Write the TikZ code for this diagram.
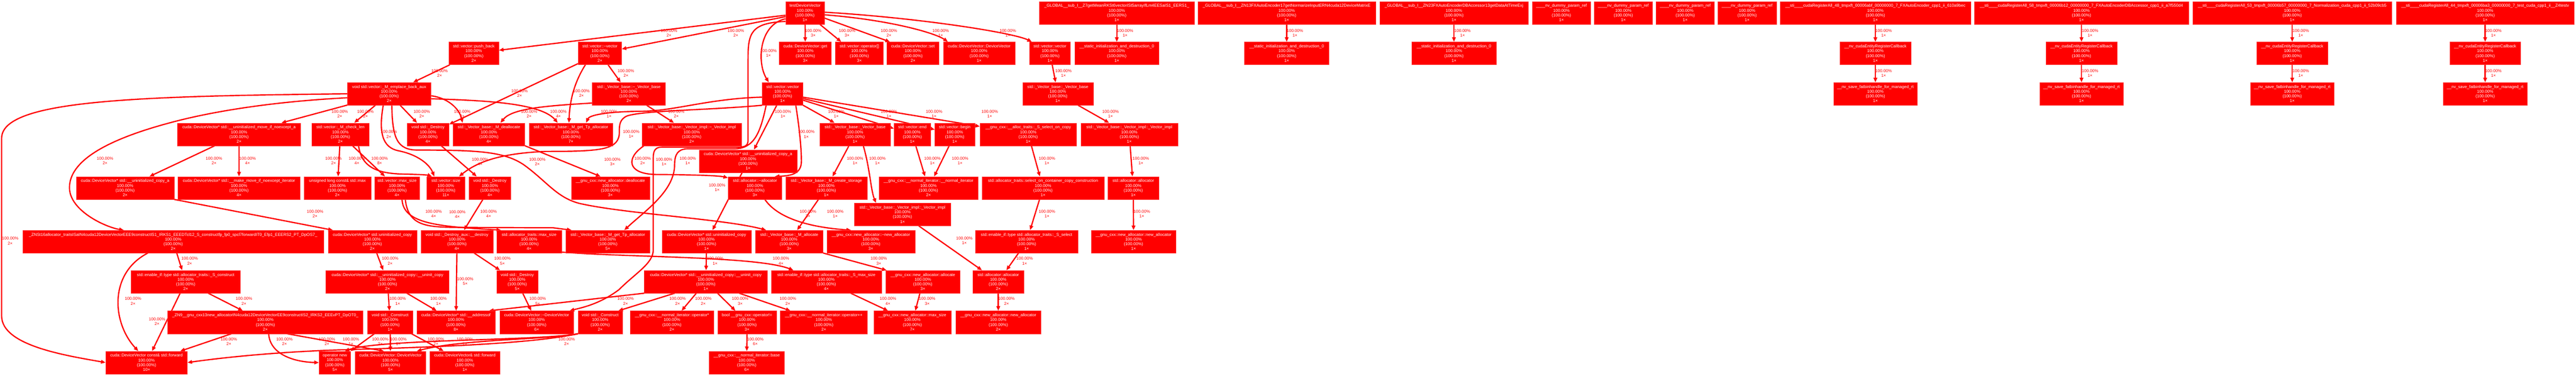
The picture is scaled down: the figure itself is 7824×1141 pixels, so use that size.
\documentclass[tikz,border=0pt]{standalone}
\usepackage{fontspec}
\setmainfont{Liberation Sans}
\usetikzlibrary{arrows.meta}
\pgfdeclarelayer{bg}
\pgfsetlayers{bg,main}
\newcommand\nf{\fontsize{12.6pt}{14.5pt}\selectfont}
\newcounter{lab}
\newcommand\FN[6]{\node[fn,minimum width=#4pt] (#1) at (#2,#3) {#5\\100.00\%\\(100.00\%)\\#6×};}
\newcommand\EL[3]{\stepcounter{lab}\node[elab] (lab\thelab) at (#1,#2) {100.00\%\\#3×};}
\tikzset{
  fn/.style={fill=red, draw=red!80!white, line width=0.6pt, text=white, align=center, inner sep=0pt, minimum height=69pt, font=\nf},
  elab/.style={text=red, align=center, inner sep=0pt, font=\nf},
  ed/.style={draw=red, line width=3.8pt, -{Triangle[length=14pt,width=11pt]}}
}
\begin{document}
\begin{tikzpicture}[x=1pt,y=-1pt]
\useasboundingbox (0,0) rectangle (7824,1141);
% ---------- R0
\FN{tdv}{2445}{39}{118}{testDeviceVector}{1}
\FN{g1}{3392}{39}{470}{\_GLOBAL\_\_sub\_I\_\_Z7getMeanRKSt6vectorISt5arrayIfLm4EESaIS1\_EERS1\_}{1}
\FN{g2}{3908}{39}{540}{\_GLOBAL\_\_sub\_I\_\_ZN13FXAutoEncoder17getNormarizeInputERN4cuda12DeviceMatrixE}{1}
\FN{g3}{4416}{39}{452}{\_GLOBAL\_\_sub\_I\_\_ZN23FXAutoEncoderDBAccessor13getDataAtTimeExj}{1}
\FN{d1}{4742.5}{39}{177}{\_\_\_\_nv\_dummy\_param\_ref}{1}
\FN{d2}{4930.5}{39}{177}{\_\_\_\_nv\_dummy\_param\_ref}{1}
\FN{d3}{5118.5}{39}{177}{\_\_\_\_nv\_dummy\_param\_ref}{1}
\FN{d4}{5306.5}{39}{177}{\_\_\_\_nv\_dummy\_param\_ref}{1}
\FN{s48}{5696}{39}{578}{\_\_sti\_\_\_\_cudaRegisterAll\_48\_tmpxft\_00006abf\_00000000\_7\_FXAutoEncoder\_cpp1\_ii\_610a9bec}{1}
\FN{s58}{6322}{39}{651}{\_\_sti\_\_\_\_cudaRegisterAll\_58\_tmpxft\_00006b12\_00000000\_7\_FXAutoEncoderDBAccessor\_cpp1\_ii\_a7f550d4}{1}
\FN{s53}{6962}{39}{605}{\_\_sti\_\_\_\_cudaRegisterAll\_53\_tmpxft\_00006b57\_00000000\_7\_Normalization\_cuda\_cpp1\_ii\_52b09cb5}{1}
\FN{s44}{7548}{39}{540}{\_\_sti\_\_\_\_cudaRegisterAll\_44\_tmpxft\_00006ba3\_00000000\_7\_test\_cuda\_cpp1\_ii\_\_Z4testv}{1}
% ---------- R1
\FN{pushb}{1439}{162}{152}{std::vector::push\_back}{2}
\FN{dtorvec}{1822}{162}{132}{std::vector::\textasciitilde vector}{2}
\FN{dvget}{2446}{162}{158}{cuda::DeviceVector::get}{3}
\FN{opidx}{2610}{162}{145}{std::vector::operator[]}{3}
\FN{dvset}{2773}{162}{158}{cuda::DeviceVector::set}{2}
\FN{dvctor1}{2974}{162}{217}{cuda::DeviceVector::DeviceVector}{1}
\FN{vecctor2}{3189}{162}{124}{std::vector::vector}{1}
\FN{sid1}{3392}{162}{256}{\_\_static\_initialization\_and\_destruction\_0}{1}
\FN{sid2}{3908}{162}{257}{\_\_static\_initialization\_and\_destruction\_0}{1}
\FN{sid3}{4416}{162}{257}{\_\_static\_initialization\_and\_destruction\_0}{1}
\FN{cb48}{5696}{162}{215}{\_\_nv\_cudaEntityRegisterCallback}{1}
\FN{cb58}{6322}{162}{215}{\_\_nv\_cudaEntityRegisterCallback}{1}
\FN{cb53}{6962}{162}{215}{\_\_nv\_cudaEntityRegisterCallback}{1}
\FN{cb44}{7548}{162}{215}{\_\_nv\_cudaEntityRegisterCallback}{1}
% ---------- R2
\FN{emplace}{1182}{285}{253}{void std::vector::\_M\_emplace\_back\_aux}{2}
\FN{vbdtor}{1910}{285}{222}{std::\_Vector\_base::\textasciitilde\_Vector\_base}{2}
\FN{vecctor1}{2377}{285}{124}{std::vector::vector}{1}
\FN{vbctor2}{3213}{285}{214}{std::\_Vector\_base::\_Vector\_base}{1}
\FN{fs48}{5696}{285}{254}{\_\_nv\_save\_fatbinhandle\_for\_managed\_rt}{1}
\FN{fs58}{6322}{285}{254}{\_\_nv\_save\_fatbinhandle\_for\_managed\_rt}{1}
\FN{fs53}{6962}{285}{254}{\_\_nv\_save\_fatbinhandle\_for\_managed\_rt}{1}
\FN{fs44}{7548}{285}{254}{\_\_nv\_save\_fatbinhandle\_for\_managed\_rt}{1}
% ---------- R3
\FN{umovea}{726}{408}{374}{cuda::DeviceVector* std::\_\_uninitialized\_move\_if\_noexcept\_a}{2}
\FN{checklen}{1034}{408}{174}{std::vector::\_M\_check\_len}{2}
\FN{destroy4a}{1300}{408}{127}{void std::\_Destroy}{4}
\FN{mdealloc}{1485}{408}{218}{std::\_Vector\_base::\_M\_deallocate}{4}
\FN{gettp7}{1734}{408}{253}{std::\_Vector\_base::\_M\_get\_Tp\_allocator}{7}
\FN{vimpldtor}{2101}{408}{302}{std::\_Vector\_base::\_Vector\_impl::\textasciitilde\_Vector\_impl}{2}
\FN{vbctor1}{2597}{408}{214}{std::\_Vector\_base::\_Vector\_base}{1}
\FN{vend}{2771}{408}{111}{std::vector::end}{1}
\FN{vbegin}{2900}{408}{121}{std::vector::begin}{1}
\FN{selcopy}{3123}{408}{293}{\_\_gnu\_cxx::\_\_alloc\_traits::\_S\_select\_on\_copy}{1}
\FN{vimplctor2}{3430}{408}{294}{std::\_Vector\_base::\_Vector\_impl::\_Vector\_impl}{1}
\FN{ucopya1}{2272}{489.5}{298}{cuda::DeviceVector* std::\_\_uninitialized\_copy\_a}{1}
% ---------- R4
\FN{ucopya2}{380}{571}{297}{cuda::DeviceVector* std::\_\_uninitialized\_copy\_a}{2}
\FN{mkmove}{726}{571}{371}{cuda::DeviceVector* std::\_\_make\_move\_if\_noexcept\_iterator}{4}
\FN{smax}{1025}{571}{203}{unsigned long const\& std::max}{2}
\FN{maxsize}{1206}{571}{135}{std::vector::max\_size}{4}
\FN{vsize}{1354}{571}{115}{std::vector::size}{11}
\FN{destroy4b}{1488}{571}{126}{void std::\_Destroy}{4}
\FN{nadealloc}{1854}{571}{238}{\_\_gnu\_cxx::new\_allocator::deallocate}{3}
\FN{allocdtor}{2293}{571}{163}{std::allocator::\textasciitilde allocator}{3}
\FN{createst}{2510}{571}{247}{std::\_Vector\_base::\_M\_create\_storage}{1}
\FN{normit}{2820}{571}{301}{\_\_gnu\_cxx::\_\_normal\_iterator::\_\_normal\_iterator}{2}
\FN{selcc}{3168}{571}{370}{std::allocator\_traits::select\_on\_container\_copy\_construction}{1}
\FN{allocctor1}{3442}{571}{154}{std::allocator::allocator}{1}
\FN{vimplctor1}{2741}{651.5}{293}{std::\_Vector\_base::\_Vector\_impl::\_Vector\_impl}{1}
% ---------- R5
\FN{atconstruct}{526}{734}{914}{\_ZNSt16allocator\_traitsISaIN4cuda12DeviceVectorEEE9constructIS1\_IRKS1\_EEEDTcl12\_S\_constructfp\_fp0\_spcl7forwardIT0\_Efp1\_EEERS2\_PT\_DpOS7\_}{2}
\FN{ucopy2}{1131}{734}{269}{cuda::DeviceVector* std::uninitialized\_copy}{2}
\FN{destroyaux}{1388}{734}{219}{void std::\_Destroy\_aux::\_\_destroy}{4}
\FN{atmaxsize}{1607}{734}{197}{std::allocator\_traits::max\_size}{4}
\FN{gettp5}{1846}{734}{254}{std::\_Vector\_base::\_M\_get\_Tp\_allocator}{5}
\FN{ucopy1}{2146}{734}{271}{cuda::DeviceVector* std::uninitialized\_copy}{1}
\FN{mallocate}{2397}{734}{206}{std::\_Vector\_base::\_M\_allocate}{3}
\FN{nadtor}{2645}{734}{268}{\_\_gnu\_cxx::new\_allocator::\textasciitilde new\_allocator}{3}
\FN{sselect}{3118}{734}{312}{std::enable\_if::type std::allocator\_traits::\_S\_select}{1}
\FN{nactor1}{3443}{734}{257}{\_\_gnu\_cxx::new\_allocator::new\_allocator}{1}
% ---------- R6
\FN{sconstruct}{564}{856}{331}{std::enable\_if::type std::allocator\_traits::\_S\_construct}{2}
\FN{uninit2}{1177}{856}{374}{cuda::DeviceVector* std::\_\_uninitialized\_copy::\_\_uninit\_copy}{2}
\FN{destroy5}{1571}{856}{126}{void std::\_Destroy}{5}
\FN{uninit1}{2144}{856}{374}{cuda::DeviceVector* std::\_\_uninitialized\_copy::\_\_uninit\_copy}{1}
\FN{smaxsize}{2510}{856}{334}{std::enable\_if::type std::allocator\_traits::\_S\_max\_size}{4}
\FN{naallocate}{2803}{856}{225}{\_\_gnu\_cxx::new\_allocator::allocate}{3}
\FN{allocctor2}{3032}{856}{154}{std::allocator::allocator}{2}
% ---------- R7
\FN{naconstruct}{806}{979}{593}{\_ZN9\_\_gnu\_cxx13new\_allocatorIN4cuda12DeviceVectorEE9constructIS2\_IRKS2\_EEEvPT\_DpOT0\_}{2}
\FN{construct1}{1185}{979}{137}{void std::\_Construct}{1}
\FN{addressof}{1385}{979}{238}{cuda::DeviceVector* std::\_\_addressof}{8}
\FN{dvdtor}{1630}{979}{223}{cuda::DeviceVector::\textasciitilde DeviceVector}{6}
\FN{construct2}{1823}{979}{135}{void std::\_Construct}{2}
\FN{itderef}{2041}{979}{254}{\_\_gnu\_cxx::\_\_normal\_iterator::operator*}{2}
\FN{itne}{2269}{979}{178}{bool \_\_gnu\_cxx::operator!=}{3}
\FN{itinc}{2502}{979}{265}{\_\_gnu\_cxx::\_\_normal\_iterator::operator++}{2}
\FN{namaxsize}{2771}{979}{235}{\_\_gnu\_cxx::new\_allocator::max\_size}{7}
\FN{nactor2}{3032}{979}{257}{\_\_gnu\_cxx::new\_allocator::new\_allocator}{2}
% ---------- R8
\FN{fwdconst}{445}{1101.5}{248}{cuda::DeviceVector const\& std::forward}{10}
\FN{opnew}{1017}{1101.5}{96}{operator new}{5}
\FN{dvctor5}{1186}{1101.5}{215}{cuda::DeviceVector::DeviceVector}{5}
\FN{fwdref}{1412}{1101.5}{213}{cuda::DeviceVector\& std::forward}{1}
\FN{itbase}{2268}{1101.5}{229}{\_\_gnu\_cxx::\_\_normal\_iterator::base}{6}

\begin{pgfonlayer}{bg}
\fill[white] (0,0) rectangle (7824,1141);
% testDeviceVector
\draw[ed] (tdv) -- (pushb);
\draw[ed] (tdv) -- (dtorvec);
\draw[ed] (tdv) -- (dvget);
\draw[ed] ([xshift=45pt]tdv.south) -- ([xshift=-55pt]opidx.north);
\draw[ed] ([yshift=-16pt]tdv.east) -- ([xshift=-70pt]dvset.north);
\draw[ed] ([yshift=-6pt]tdv.east) .. controls (2700,60) and (2840,100) .. ([xshift=-95pt]dvctor1.north);
\draw[ed] ([yshift=2pt]tdv.east) .. controls (2800,55) and (3080,100) .. ([xshift=-55pt]vecctor2.north);
\draw[ed] ([yshift=-18pt]tdv.west) .. controls (2305,75) and (2298,190) .. ([xshift=-42pt]vecctor1.north);
\draw[ed] ([yshift=-26pt]tdv.west) .. controls (2280,70) and (2272,100) .. (2272,180) -- (2272,425) .. controls (2272,444) and (2262,447) .. (2240,447) -- (2010,447) .. controls (1990,447) and (1984,458) .. (1984,480) -- (1984,760) .. controls (1984,800) and (1930,830) .. (1880,880) .. controls (1820,925) and (1765,935) .. ([xshift=100pt]dvdtor.north);
% push_back, ~vector
\draw[ed] (pushb) -- (emplace);
\draw[ed] (dtorvec) -- (destroy4a);
\draw[ed] ([xshift=-44pt]dtorvec.south) .. controls (1738,260) and (1730,320) .. ([xshift=-6pt]gettp7.north);
\draw[ed] (dtorvec) -- (vbdtor);
% emplace_back_aux
\draw[ed] (emplace) -- (umovea);
\draw[ed] (emplace) -- (checklen);
\draw[ed] ([xshift=-18pt]emplace.south) .. controls (1150,400) and (1160,448) .. (1210,458) .. controls (1270,470) and (1305,500) .. ([xshift=-35pt]vsize.north);
\draw[ed] (emplace) -- (destroy4a);
\draw[ed] ([yshift=-15pt]emplace.east) .. controls (1450,305) and (1640,310) .. ([xshift=-40pt]gettp7.north);
\draw[ed] ([yshift=-6pt]emplace.east) .. controls (1360,297) and (1395,330) .. ([xshift=-80pt]mdealloc.north);
\draw[ed] ([xshift=8pt]emplace.south) .. controls (1192,420) and (1205,456) .. (1270,456) .. controls (1450,456) and (1530,460) .. (1590,500) .. controls (1660,550) and (1690,600) .. (1760,618) .. controls (1900,650) and (2200,665) .. ([xshift=-70pt]mallocate.north);
\draw[ed] ([yshift=-12pt]emplace.west) .. controls (800,310) and (620,345) .. (520,372) .. controls (320,425) and (211,490) .. (211,570) .. controls (211,640) and (320,690) .. ([xshift=-150pt]atconstruct.north);
\draw[ed] (emplace.west) .. controls (400,292) and (5,305) .. (5,420) -- (5,960) .. controls (5,1050) and (200,1080) .. (fwdconst.west);
% ~_Vector_base
\draw[ed] ([yshift=-28pt]vbdtor.west) .. controls (1650,322) and (1555,330) .. ([xshift=35pt]mdealloc.north);
\draw[ed] (vbdtor) -- (vimpldtor);
% vector::vector (copy)
\draw[ed] (vecctor1) -- (vbctor1);
\draw[ed] (vecctor1) -- (vend);
\draw[ed] (vecctor1) -- (vbegin);
\draw[ed] (vecctor1) -- (selcopy);
\draw[ed] ([yshift=-10pt]vecctor1.west) .. controls (2150,300) and (2050,337) .. (1950,338) .. controls (1840,339) and (1790,350) .. ([xshift=46pt]gettp7.north);
\draw[ed] (vecctor1.south west) .. controls (2150,335) and (1960,335) .. (1905,352) .. controls (1882,362) and (1881,380) .. (1881,400) .. controls (1882,455) and (1830,460) .. (1660,460) .. controls (1500,466) and (1440,500) .. ([xshift=40pt]vsize.north);
\draw[ed] (vecctor1) -- (ucopya1);
\draw[ed] ([xshift=40pt]vecctor1.south) .. controls (2425,370) and (2434,440) .. (2434,490) .. controls (2434,530) and (2400,534) .. ([xshift=60pt]allocdtor.north);
\draw[ed] ([xshift=-50pt]vecctor1.south) .. controls (2310,400) and (2292,452) .. (2230,452) -- (2090,452) .. controls (2058,452) and (2049,470) .. (2049,500) .. controls (2049,580) and (1960,640) .. ([xshift=50pt]gettp5.north);
% rank 3
\draw[ed] (umovea) -- (ucopya2);
\draw[ed] (umovea) -- (mkmove);
\draw[ed] (checklen) -- (smax);
\draw[ed] (checklen) -- (maxsize);
\draw[ed] ([xshift=55pt]checklen.south) .. controls (1098,505) and (1140,528) .. (1230,529) .. controls (1280,530) and (1300,532) .. ([xshift=-42pt]vsize.north);
\draw[ed] (destroy4a) -- (destroy4b);
\draw[ed] (mdealloc.south east) -- ([xshift=-30pt]nadealloc.north);
\draw[ed] ([xshift=-145pt]vimpldtor.south) .. controls (1900,480) and (1905,528) .. (1990,530) .. controls (2100,531) and (2180,533) .. ([yshift=-4pt]allocdtor.north west);
\draw[ed] (vbctor1) -- (createst);
\draw[ed] ([xshift=25pt]vbctor1.south) .. controls (2642,510) and (2645,580) .. ([xshift=-80pt]vimplctor1.north);
\draw[ed] (vend) -- (normit);
\draw[ed] (vbegin) -- (normit);
\draw[ed] (selcopy) -- (selcc);
\draw[ed] (vecctor2) -- (vbctor2);
\draw[ed] (vbctor2) -- (vimplctor2);
\draw[ed] (vimplctor2) -- (allocctor1);
\draw[ed] (ucopya1) -- (ucopy1);
% rank 4
\draw[ed] (ucopya2.south east) -- ([xshift=-120pt]ucopy2.north);
\draw[ed] ([xshift=15pt]maxsize.south) .. controls (1225,680) and (1330,688) .. ([xshift=-85pt]atmaxsize.north);
\draw[ed] ([xshift=25pt]maxsize.south) .. controls (1240,690) and (1300,690) .. (1400,691) -- (1680,692) -- ([xshift=-110pt]gettp5.north);
\draw[ed] (destroy4b) -- (destroyaux);
\draw[ed] ([xshift=30pt]allocdtor.south) .. controls (2360,660) and (2450,690) .. ([xshift=-60pt]nadtor.north);
\draw[ed] (createst) -- (mallocate);
\draw[ed] (selcc) -- (sselect);
\draw[ed] (allocctor1) -- (nactor1);
\draw[ed] (vimplctor1) -- (allocctor2);
% rank 5
\draw[ed] (atconstruct) -- (sconstruct);
\draw[ed] ([xshift=-77pt]atconstruct.south) .. controls (330,830) and (340,980) .. ([xshift=-25pt]fwdconst.north);
\draw[ed] (ucopy2) -- (uninit2);
\draw[ed] (destroyaux) -- (destroy5);
\draw[ed] (destroyaux) -- (addressof);
\draw[ed] ([yshift=3pt]atmaxsize.south east) .. controls (1900,782) and (2300,778) .. ([xshift=-100pt]smaxsize.north);
\draw[ed] (ucopy1) -- (uninit1);
\draw[ed] (mallocate.south east) -- ([xshift=-110pt]naallocate.north);
\draw[ed] (sselect) -- (allocctor2);
% rank 6
\draw[ed] (sconstruct) -- (naconstruct);
\draw[ed] (sconstruct) -- (fwdconst);
\draw[ed] (uninit2) -- (construct1);
\draw[ed] (uninit2) -- (addressof);
\draw[ed] (destroy5) -- (dvdtor);
\draw[ed] (uninit1.south west) -- ([xshift=100pt]addressof.north);
\draw[ed] ([xshift=-95pt]uninit1.south) -- ([xshift=55pt]construct2.north);
\draw[ed] (uninit1) -- (itderef);
\draw[ed] (uninit1) -- (itne);
\draw[ed] (uninit1) -- (itinc);
\draw[ed] (smaxsize) -- (namaxsize);
\draw[ed] (naallocate) -- (namaxsize);
\draw[ed] (allocctor2) -- (nactor2);
% rank 7
\draw[ed] (naconstruct) -- (fwdconst);
\draw[ed] ([xshift=10pt]naconstruct.south) .. controls (820,1080) and (900,1100) .. (opnew.west);
\draw[ed] ([xshift=65pt]naconstruct.south) -- ([xshift=-20pt]dvctor5.north);
\draw[ed] (construct1) -- (opnew);
\draw[ed] (construct1) -- (dvctor5);
\draw[ed] (construct1) -- (fwdref);
\draw[ed] (construct2.south west) .. controls (1650,1035) and (1150,1030) .. ([xshift=30pt]opnew.north);
\draw[ed] (construct2.south west) .. controls (1700,1030) and (1400,1030) .. ([xshift=80pt]dvctor5.north);
\draw[ed] (construct2.south west) .. controls (1600,1048) and (1250,1056) .. (1000,1064) .. controls (800,1072) and (650,1090) .. (fwdconst.east);
\draw[ed] (itne) -- (itbase);
% static init / cuda register chains
\draw[ed] (g1) -- (sid1);
\draw[ed] (g2) -- (sid2);
\draw[ed] (g3) -- (sid3);
\draw[ed] (s48) -- (cb48);
\draw[ed] (cb48) -- (fs48);
\draw[ed] (s58) -- (cb58);
\draw[ed] (cb58) -- (fs58);
\draw[ed] (s53) -- (cb53);
\draw[ed] (cb53) -- (fs53);
\draw[ed] (s44) -- (cb44);
\draw[ed] (cb44) -- (fs44);
\end{pgfonlayer}

% ---------- edge labels
\EL{2032}{100}{2}\EL{2235}{100}{2}\EL{2470}{100}{3}\EL{2573}{100}{3}\EL{2700}{100}{2}
\EL{2857}{100}{1}\EL{3061}{100}{1}\EL{2334}{162}{1}\EL{2017}{492}{1}
\EL{3417}{100}{1}\EL{3933}{100}{1}\EL{4442}{100}{1}
\EL{5721}{100}{1}\EL{5721}{223}{1}\EL{6348}{100}{1}\EL{6348}{223}{1}
\EL{6988}{100}{1}\EL{6988}{223}{1}\EL{7573}{100}{1}\EL{7573}{223}{1}
\EL{1335}{223}{2}
\EL{1578}{284}{2}\EL{1766}{284}{2}\EL{1901}{223}{2}
\EL{1032}{346}{2}\EL{1110}{346}{2}\EL{1181}{408}{2}\EL{1281}{346}{2}\EL{1696}{346}{4}
\EL{1404}{346}{2}\EL{1632}{492}{2}\EL{319}{488}{2}\EL{31}{732}{2}
\EL{1607}{346}{2}\EL{2054}{346}{2}
\EL{2540}{346}{1}\EL{2700}{346}{1}\EL{2837}{346}{1}\EL{3006}{346}{1}\EL{1850}{346}{1}
\EL{2089}{488}{1}\EL{1917}{407}{1}\EL{2378}{346}{1}\EL{2449}{408}{1}
\EL{650}{488}{2}\EL{752}{488}{4}
\EL{1013}{488}{2}\EL{1084}{488}{4}\EL{1153}{488}{8}
\EL{1458}{492}{4}\EL{1860}{492}{3}\EL{1952}{488}{2}
\EL{2597}{488}{1}\EL{2665}{488}{1}\EL{2832}{488}{1}\EL{2916}{488}{1}\EL{3180}{488}{1}
\EL{3230}{223}{1}\EL{3373}{346}{1}\EL{3465}{488}{1}\EL{3468}{650}{1}
\EL{2178}{570}{1}\EL{957}{650}{2}\EL{1317}{650}{4}\EL{1389}{651}{4}\EL{1484}{650}{4}
\EL{2454}{650}{3}\EL{2537}{650}{1}\EL{3180}{650}{1}\EL{2929}{731}{1}
\EL{576}{793}{2}\EL{404}{915}{2}\EL{1185}{793}{2}\EL{1526}{793}{5}\EL{1413}{855}{5}
\EL{2372}{793}{4}\EL{2172}{793}{1}\EL{2669}{793}{3}\EL{3112}{793}{1}
\EL{741}{915}{2}\EL{477}{977}{2}\EL{1208}{915}{1}\EL{1332}{915}{1}\EL{1633}{915}{5}
\EL{1900}{915}{2}\EL{2058}{915}{2}\EL{2136}{915}{2}\EL{2248}{915}{3}\EL{2393}{915}{2}
\EL{2697}{915}{4}\EL{2816}{915}{3}\EL{3057}{915}{2}
\EL{695}{1038}{2}\EL{864}{1038}{2}\EL{993}{1038}{2}\EL{1066}{1038}{1}\EL{1155}{1038}{2}
\EL{1210}{1038}{1}\EL{1324}{1038}{2}\EL{1412}{1038}{1}\EL{1721}{1038}{2}\EL{2294}{1038}{6}
\end{tikzpicture}
\end{document}
